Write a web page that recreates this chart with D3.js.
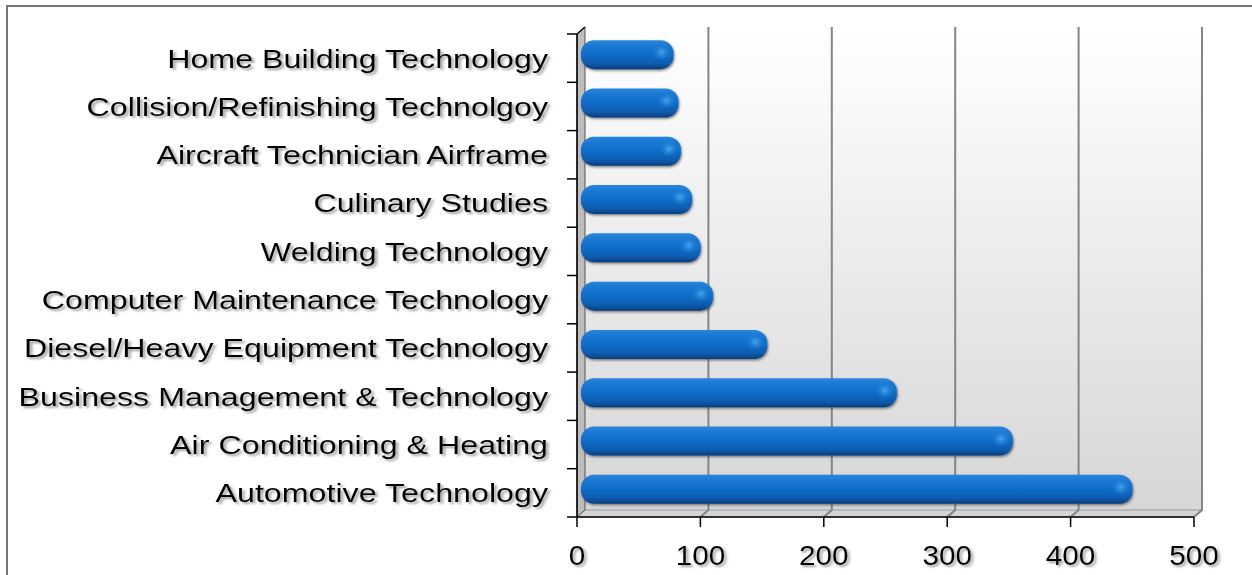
<!DOCTYPE html>
<html>
<head>
<meta charset="utf-8">
<script src="https://cdn.jsdelivr.net/npm/d3@7"></script>
<style>
  html, body { margin: 0; padding: 0; background: #fff; }
  svg { display: block; }
  text { font-family: "Liberation Sans", Arial, sans-serif; fill: #000; }
</style>
</head>
<body>
<svg id="chart" width="1252" height="575"></svg>
<script>
// Enrollment by program
const categories = [
  "Home Building Technology",
  "Collision/Refinishing Technolgoy",
  "Aircraft Technician Airframe",
  "Culinary Studies",
  "Welding Technology",
  "Computer Maintenance Technology",
  "Diesel/Heavy Equipment Technology",
  "Business Management & Technology",
  "Air Conditioning & Heating",
  "Automotive Technology"
];
const values = [75, 79, 81, 90, 97, 107, 151, 256, 350, 447];
const xTicks = [0, 100, 200, 300, 400, 500];

const svg = d3.select("#chart");
const W = 1252, H = 575;

// 3D depth offset of the back wall relative to the front plane
const depth = { dx: 8, dy: -7 };

const x = d3.scaleLinear().domain([0, 500]).range([577, 1194]);
const y = d3.scaleBand().domain(categories).range([34, 517]).paddingInner(0.4).paddingOuter(0.2);
const yEdges = d3.scaleLinear().domain([0, categories.length]).range([34, 517]);

const defs = svg.append("defs");

// back wall gradient
const wallGrad = defs.append("linearGradient").attr("id", "wallGrad")
  .attr("x1", 0).attr("y1", 0).attr("x2", 0).attr("y2", 1);
wallGrad.append("stop").attr("offset", "0%").attr("stop-color", "#ffffff");
wallGrad.append("stop").attr("offset", "100%").attr("stop-color", "#d6d6d6");

// bar body gradient
const barGrad = defs.append("linearGradient").attr("id", "barGrad")
  .attr("x1", 0).attr("y1", 0).attr("x2", 0).attr("y2", 1);
[["0%", "#2a86dc"], ["20%", "#1a78d3"], ["50%", "#0e6dc8"], ["80%", "#0a5cb0"], ["100%", "#053f7c"]]
  .forEach(([o, c]) => barGrad.append("stop").attr("offset", o).attr("stop-color", c));

// soft highlight near the bar end
const hiGrad = defs.append("radialGradient").attr("id", "hiGrad");
hiGrad.append("stop").attr("offset", "0%").attr("stop-color", "#4fa9f2").attr("stop-opacity", 0.9);
hiGrad.append("stop").attr("offset", "100%").attr("stop-color", "#1a78d3").attr("stop-opacity", 0);

// shadow under text
const txtShadow = defs.append("filter").attr("id", "txtShadow")
  .attr("x", "-10%").attr("y", "-30%").attr("width", "130%").attr("height", "170%");
txtShadow.append("feDropShadow").attr("dx", 2).attr("dy", 2).attr("stdDeviation", 1.3)
  .attr("flood-color", "#777").attr("flood-opacity", 0.75);

// shadow under bars
const barShadow = defs.append("filter").attr("id", "barShadow")
  .attr("x", "-5%").attr("y", "-30%").attr("width", "115%").attr("height", "180%");
barShadow.append("feDropShadow").attr("dx", 1).attr("dy", 1.5).attr("stdDeviation", 1.2)
  .attr("flood-color", "#333").attr("flood-opacity", 0.6);

// outer frame
svg.append("rect").attr("x", 7).attr("y", 6).attr("width", W + 20).attr("height", H + 20)
  .attr("fill", "none").attr("stroke", "#767676").attr("stroke-width", 2);

const x0 = x(0), x1 = x(500), yTop = yEdges(0), yBot = yEdges(categories.length);

// back wall
svg.append("rect")
  .attr("x", x0 + depth.dx).attr("y", yTop + depth.dy)
  .attr("width", x1 - x0).attr("height", yBot - yTop)
  .attr("fill", "url(#wallGrad)");

// floor
svg.append("path")
  .attr("d", `M${x0},${yBot} L${x0 + depth.dx},${yBot + depth.dy} L${x1 + depth.dx},${yBot + depth.dy} L${x1},${yBot} Z`)
  .attr("fill", "#d4d4d4").attr("stroke", "#9a9a9a").attr("stroke-width", 1);

// gridlines on the wall running down across the floor
svg.append("g").selectAll("path").data(xTicks.slice(1)).join("path")
  .attr("d", d => `M${x(d) + depth.dx},${yTop + depth.dy} L${x(d) + depth.dx},${yBot + depth.dy} L${x(d)},${yBot}`)
  .attr("fill", "none").attr("stroke", "#858585").attr("stroke-width", 2);

// left side wall
svg.append("path")
  .attr("d", `M${x0},${yTop} L${x0 + depth.dx},${yTop + depth.dy} L${x0 + depth.dx},${yBot + depth.dy} L${x0},${yBot} Z`)
  .attr("fill", "#bdbdbd").attr("stroke", "#555").attr("stroke-width", 1);

// bars, placed at mid depth
const mid = { dx: depth.dx / 2, dy: depth.dy / 2 };
const bars = svg.append("g").selectAll("g").data(categories).join("g");
bars.append("rect")
  .attr("x", x(0) + mid.dx)
  .attr("y", d => y(d) + mid.dy)
  .attr("width", (d, i) => x(values[i]) - x(0))
  .attr("height", y.bandwidth())
  .attr("rx", 13).attr("ry", 13)
  .attr("fill", "url(#barGrad)")
  .attr("filter", "url(#barShadow)");
bars.append("ellipse")
  .attr("cx", (d, i) => x(values[i]) + mid.dx - 12)
  .attr("cy", d => y(d) + mid.dy + y.bandwidth() * 0.42)
  .attr("rx", 10).attr("ry", 9)
  .attr("fill", "url(#hiGrad)");

// front axes
const axisG = svg.append("g");
axisG.append("line").attr("x1", x0).attr("x2", x0).attr("y1", yTop).attr("y2", yBot)
  .attr("stroke", "#000").attr("stroke-width", 1.5);
axisG.append("line").attr("x1", x0).attr("x2", x1).attr("y1", yBot).attr("y2", yBot)
  .attr("stroke", "#000").attr("stroke-width", 1.5);
axisG.append("line").attr("x1", x0).attr("y1", yTop).attr("x2", x0 + depth.dx).attr("y2", yTop + depth.dy)
  .attr("stroke", "#000").attr("stroke-width", 1.2);
// category tick marks
axisG.selectAll("line.yt").data(d3.range(categories.length + 1)).join("line")
  .attr("class", "yt")
  .attr("x1", x0 - 10).attr("x2", x0)
  .attr("y1", d => yEdges(d)).attr("y2", d => yEdges(d))
  .attr("stroke", "#000").attr("stroke-width", 1.5);
// value tick marks
axisG.selectAll("line.xt").data(xTicks).join("line")
  .attr("class", "xt")
  .attr("x1", d => x(d)).attr("x2", d => x(d))
  .attr("y1", yBot).attr("y2", yBot + 10)
  .attr("stroke", "#000").attr("stroke-width", 1.5);

// category labels (wide face)
svg.append("g").selectAll("text").data(categories).join("text")
  .attr("transform", d => `translate(548,${y(d) + y.bandwidth() / 2}) scale(1.24,1)`)
  .attr("dy", "0.36em")
  .attr("text-anchor", "end")
  .attr("font-size", 26)
  .attr("filter", "url(#txtShadow)")
  .text(d => d);

// value labels
svg.append("g").selectAll("text").data(xTicks).join("text")
  .attr("transform", d => `translate(${x(d)},565) scale(1.1,1)`)
  .attr("text-anchor", "middle")
  .attr("font-size", 27)
  .attr("filter", "url(#txtShadow)")
  .text(d => d);
</script>
</body>
</html>
